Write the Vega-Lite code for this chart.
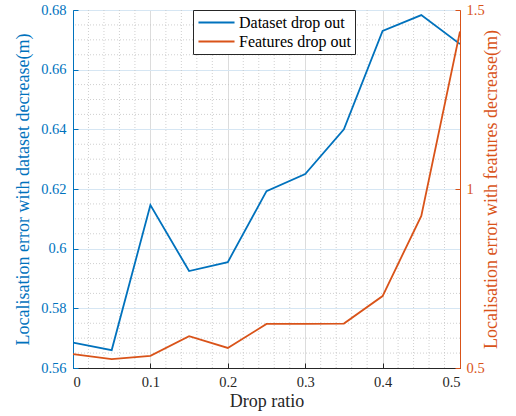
{
  "$schema": "https://vega.github.io/schema/vega-lite/v6.json",
  "width": 387,
  "height": 358,
  "autosize": {"type": "none"},
  "padding": {"left": 73, "top": 10, "right": 56, "bottom": 48},
  "config": {
    "font": "Liberation Serif",
    "view": {"stroke": "#262626", "strokeWidth": 1},
    "axis": {
      "labelFont": "Liberation Serif",
      "titleFont": "Liberation Serif",
      "labelFontSize": 14.5,
      "titleFontSize": 18,
      "titleFontWeight": "normal",
      "tickSize": -5,
      "labelPadding": 12,
      "domainWidth": 1,
      "tickWidth": 1
    },
    "legend": {
      "labelFont": "Liberation Serif",
      "labelFontSize": 16,
      "labelColor": "#000000"
    }
  },
  "datasets": {
    "series": [
      {"x": 0.0, "dataset": 0.5685, "features": 0.539},
      {"x": 0.05, "dataset": 0.566, "features": 0.525},
      {"x": 0.1, "dataset": 0.6146, "features": 0.534},
      {"x": 0.15, "dataset": 0.5925, "features": 0.589},
      {"x": 0.2, "dataset": 0.5955, "features": 0.556},
      {"x": 0.25, "dataset": 0.6193, "features": 0.623},
      {"x": 0.3, "dataset": 0.625, "features": 0.623},
      {"x": 0.35, "dataset": 0.64, "features": 0.624},
      {"x": 0.4, "dataset": 0.673, "features": 0.701},
      {"x": 0.45, "dataset": 0.6783, "features": 0.925},
      {"x": 0.5, "dataset": 0.6686, "features": 1.44}
    ],
    "xminor": [
      {"x": 0.02}, {"x": 0.04}, {"x": 0.06}, {"x": 0.08},
      {"x": 0.12}, {"x": 0.14}, {"x": 0.16}, {"x": 0.18},
      {"x": 0.22}, {"x": 0.24}, {"x": 0.26}, {"x": 0.28},
      {"x": 0.32}, {"x": 0.34}, {"x": 0.36}, {"x": 0.38},
      {"x": 0.42}, {"x": 0.44}, {"x": 0.46}, {"x": 0.48}
    ],
    "yminor": [
      {"y": 0.565}, {"y": 0.57}, {"y": 0.575},
      {"y": 0.585}, {"y": 0.59}, {"y": 0.595},
      {"y": 0.605}, {"y": 0.61}, {"y": 0.615},
      {"y": 0.625}, {"y": 0.63}, {"y": 0.635},
      {"y": 0.645}, {"y": 0.65}, {"y": 0.655},
      {"y": 0.665}, {"y": 0.67}, {"y": 0.675}
    ]
  },
  "layer": [
    {
      "layer": [
        {
          "data": {"name": "xminor"},
          "mark": {"type": "rule", "color": "#c4c4c4", "strokeDash": [1, 2], "strokeWidth": 0.8},
          "encoding": {
            "x": {
              "field": "x", "type": "quantitative",
              "scale": {"domain": [0, 0.5], "nice": false},
              "axis": {"title": "Drop ratio", "values": [0, 0.1, 0.2, 0.3, 0.4, 0.5], "format": "~g", "grid": true, "gridColor": "#dcdcdc", "domainColor": "#262626", "tickColor": "#262626", "labelColor": "#262626", "titleColor": "#262626", "titlePadding": 4}
            }
          }
        },
        {
          "data": {"name": "yminor"},
          "mark": {"type": "rule", "color": "#c4c4c4", "strokeDash": [1, 2], "strokeWidth": 0.8},
          "encoding": {
            "y": {
              "field": "y", "type": "quantitative",
              "scale": {"domain": [0.56, 0.68], "nice": false, "zero": false},
              "axis": {
                "orient": "left",
                "title": "Localisation error with dataset decrease(m)",
                "values": [0.56, 0.58, 0.6, 0.62, 0.64, 0.66, 0.68],
                "format": "~g",
                "grid": true,
                "gridColor": "#d6e6f3",
                "domainColor": "#0072BD",
                "tickColor": "#0072BD",
                "labelColor": "#0072BD",
                "titleColor": "#0072BD",
                "titlePadding": 8
              }
            }
          }
        },
        {
          "data": {"name": "series"},
          "mark": {"type": "line", "strokeWidth": 1.8, "clip": true},
          "encoding": {
            "x": {
              "field": "x", "type": "quantitative",
              "scale": {"domain": [0, 0.5], "nice": false},
              "axis": {"title": "Drop ratio", "values": [0, 0.1, 0.2, 0.3, 0.4, 0.5], "format": "~g", "grid": true, "gridColor": "#dcdcdc", "domainColor": "#262626", "tickColor": "#262626", "labelColor": "#262626", "titleColor": "#262626", "titlePadding": 4}
            },
            "y": {
              "field": "dataset", "type": "quantitative",
              "scale": {"domain": [0.56, 0.68], "nice": false, "zero": false},
              "axis": {
                "orient": "left",
                "title": "Localisation error with dataset decrease(m)",
                "values": [0.56, 0.58, 0.6, 0.62, 0.64, 0.66, 0.68],
                "format": "~g",
                "grid": true,
                "gridColor": "#d6e6f3",
                "domainColor": "#0072BD",
                "tickColor": "#0072BD",
                "labelColor": "#0072BD",
                "titleColor": "#0072BD",
                "titlePadding": 8
              }
            },
            "color": {
              "datum": "Dataset drop out",
              "type": "nominal",
              "scale": {"domain": ["Dataset drop out", "Features drop out"], "range": ["#0072BD", "#D95319"]},
              "legend": {
                "title": null,
                "orient": "none",
                "legendX": 120,
                "legendY": 0,
                "symbolType": "stroke",
                "symbolSize": 1300,
                "symbolStrokeWidth": 2,
                "clipHeight": 17,
                "strokeColor": "#262626",
                "fillColor": "#ffffff",
                "padding": 4,
                "rowPadding": 2,
                "labelOffset": 3
              }
            }
          }
        }
      ]
    },
    {
      "data": {"name": "series"},
      "mark": {"type": "line", "strokeWidth": 1.8, "clip": true},
      "encoding": {
        "x": {
          "field": "x", "type": "quantitative",
          "scale": {"domain": [0, 0.5], "nice": false},
          "axis": {"title": "Drop ratio", "values": [0, 0.1, 0.2, 0.3, 0.4, 0.5], "format": "~g", "grid": true, "gridColor": "#dcdcdc", "domainColor": "#262626", "tickColor": "#262626", "labelColor": "#262626", "titleColor": "#262626", "titlePadding": 4}
        },
        "y": {
          "field": "features", "type": "quantitative",
          "scale": {"domain": [0.5, 1.5], "nice": false, "zero": false},
          "axis": {
            "orient": "right",
            "title": "Localisation error with features decrease(m)",
            "values": [0.5, 1, 1.5],
            "format": "~g",
            "grid": false,
            "titleAngle": 270,
            "labelPadding": 11,
            "domainColor": "#D95319",
            "tickColor": "#D95319",
            "labelColor": "#D95319",
            "titleColor": "#D95319",
            "titlePadding": 16
          }
        },
        "color": {"datum": "Features drop out", "type": "nominal"}
      }
    }
  ],
  "resolve": {"scale": {"y": "independent"}}
}
